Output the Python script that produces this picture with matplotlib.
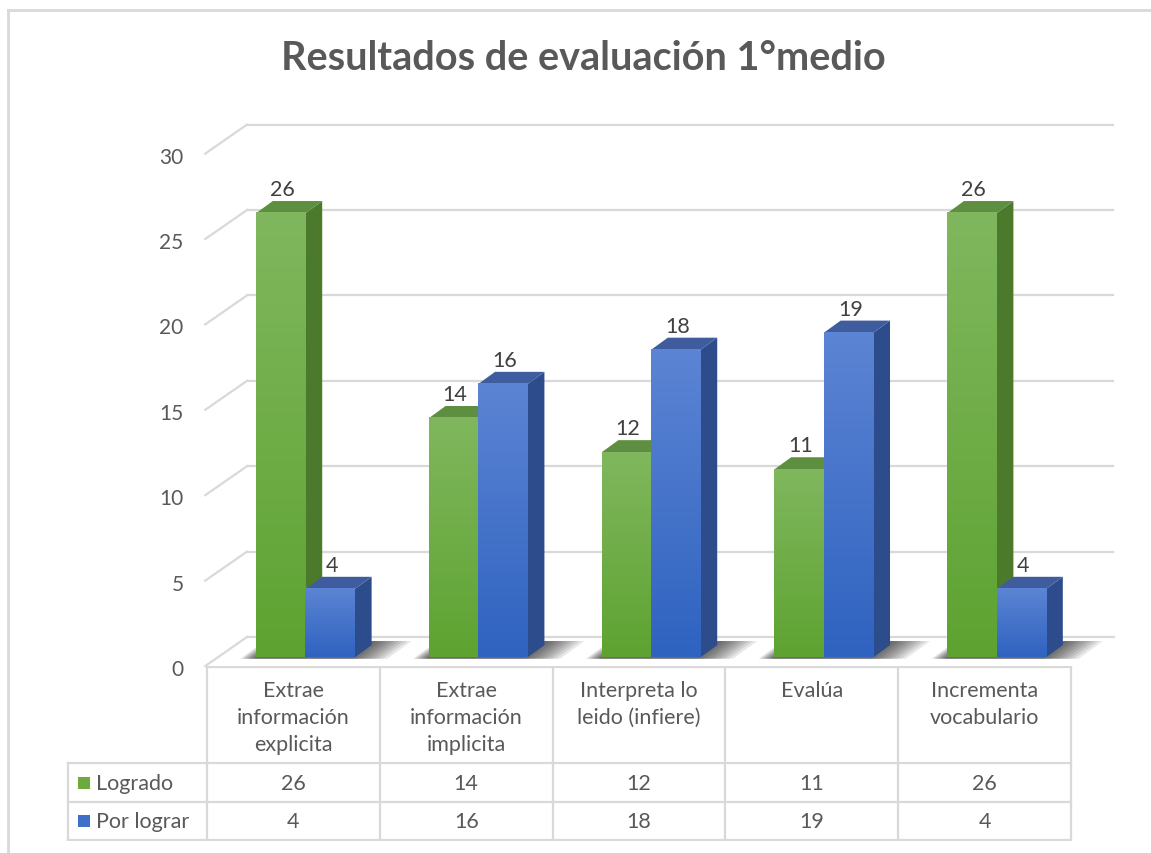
"""3D-style column chart with data table: Resultados de evaluación 1°medio."""
import numpy as np
import matplotlib
matplotlib.use("Agg")
import matplotlib.pyplot as plt
from matplotlib.patches import Polygon, Rectangle

CATEGORIES = [
    "Extrae\ninformación\nexplicita",
    "Extrae\ninformación\nimplicita",
    "Interpreta lo\nleido (infiere)",
    "Evalúa",
    "Incrementa\nvocabulario",
]
SERIES = ["Logrado", "Por lograr"]
LOGRADO = [26, 14, 12, 11, 26]
POR_LOGRAR = [4, 16, 18, 19, 4]
Y_TICKS = [0, 5, 10, 15, 20, 25, 30]
TITLE = "Resultados de evaluación 1°medio"

# colour sets per series: front top, front bottom, side, top face, legend
GREEN = ("#80b75e", "#5ea331", "#4b7a2d", "#5e8e3f", "#6aab3c")
BLUE = ("#5c84d4", "#2f63c0", "#2c4c8c", "#3f5d9e", "#3f6fc9")
TEXT = "#595959"
GRID = "#d9d9d9"

W, H = 1151, 854
X0, XU = 207.0, 172.8   # px of category 0 left edge, px per category
Y0, YU = 667.0, 17.08   # px (from top) of value 0 on front plane, px per unit
DX, DY = 40.0 / XU, 29.0 / YU   # depth offset of the back wall in data units
Z0, Z1 = 0.30, 0.72             # bar depth range
BW = 0.286                       # bar width

plt.rcParams["font.family"] = ["Lato", "DejaVu Sans"]

fig = plt.figure(figsize=(W / 100, H / 100), dpi=100)
ax = fig.add_axes([0, 0, 1, 1])
ax.axis("off")


def proj(x, v, z):
    return (x + z * DX, v + z * DY)


# outer chart frame (top and left edges visible)
fig.add_artist(plt.Line2D([8 / W, 1], [1 - 11 / H, 1 - 11 / H], color="#d9d9d9", lw=2))
fig.add_artist(plt.Line2D([8 / W, 8 / W], [0, 1 - 11 / H], color="#d9d9d9", lw=2))

n = len(CATEGORIES)

# walls: gridlines on back wall + left wall diagonals
for v in Y_TICKS:
    if v > 0:
        a, b = proj(0, v, 1), proj(n, v, 1)
        ax.plot([a[0], b[0] + 0.01], [a[1], b[1]], color=GRID, lw=1.6, zorder=1)
    a, b = proj(0, v, 0), proj(0, v, 1)
    ax.plot([a[0] - 0.01, b[0]], [a[1], b[1]], color=GRID, lw=1.6, zorder=1)
    ax.text(-0.135, v - 0.17, str(v), ha="right", va="center", fontsize=15, color=TEXT)

# floor back edge
a, b = proj(0, 0, 1), proj(n, 0, 1)
ax.plot([a[0], b[0] + 0.02], [a[1], b[1]], color=GRID, lw=1.6, zorder=1)


def shadow(xl, xr):
    # soft shadow on the floor, stacked translucent footprints
    for grow in np.linspace(0.2, 0.0, 9):
        pts = [proj(xl - grow * 0.4, 0, Z0 - 0.05), proj(xr + grow, 0, Z0 - 0.05),
               proj(xr + grow, 0, Z1 + 0.14), proj(xl - grow * 0.4, 0, Z1 + 0.14)]
        ax.add_patch(Polygon(pts, closed=True, facecolor="black", alpha=0.09,
                             edgecolor="none", zorder=2))


def bar3d(xl, v, colors):
    xr = xl + BW
    top_c, bot_c, side_c, roof_c = colors[:4]
    side = [proj(xr, 0, Z0), proj(xr, 0, Z1), proj(xr, v, Z1), proj(xr, v, Z0)]
    ax.add_patch(Polygon(side, closed=True, facecolor=side_c, edgecolor="none", zorder=3))
    roof = [proj(xl, v, Z0), proj(xr, v, Z0), proj(xr, v, Z1), proj(xl, v, Z1)]
    ax.add_patch(Polygon(roof, closed=True, facecolor=roof_c, edgecolor="none", zorder=3))
    fx0, fy0 = proj(xl, 0, Z0)
    fx1, fy1 = proj(xr, v, Z0)
    grad = np.linspace(0, 1, 64)[:, None, None]
    c_top = np.array(matplotlib.colors.to_rgb(top_c))
    c_bot = np.array(matplotlib.colors.to_rgb(bot_c))
    img = c_top * (1 - grad) + c_bot * grad
    ax.imshow(img, extent=(fx0, fx1, fy0, fy1), origin="upper", aspect="auto",
              interpolation="bilinear", zorder=4)
    lx = (fx0 + fx1) / 2 + 0.01
    ly = proj(xl, v, Z1)[1]
    ax.annotate(str(v), (lx, ly), xytext=(0, 1.5), textcoords="offset points",
                ha="center", va="bottom", fontsize=15.5, color="#404040", zorder=5)


for i in range(n):
    shadow(i + 0.5 - BW, i + 0.5 + BW)
for i in range(n):
    bar3d(i + 0.5 - BW, LOGRADO[i], GREEN)
    bar3d(i + 0.5, POR_LOGRAR[i], BLUE)

ax.set_xlim(-X0 / XU, (W - X0) / XU)
ax.set_ylim(-(H - Y0) / YU, Y0 / YU)

# title
fig.text(583 / W, 1 - 58 / H, TITLE, ha="center", va="center", fontsize=28.5,
         fontweight="bold", color=TEXT)

# data table
tb = fig.add_axes([0, (H - 842) / H, 1, (842 - 667) / H])
tb.set_xlim(-X0 / XU, (W - X0) / XU)
tb.set_ylim(175, 0)
tb.axis("off")
left = (68 - X0) / XU
tb.plot([0, n], [1, 1], color=GRID, lw=1.6)
for yy in (97, 136, 174):
    tb.plot([left, n], [yy, yy], color=GRID, lw=1.6)
for i in range(n + 1):
    tb.plot([i, i], [1, 174], color=GRID, lw=1.6)
tb.plot([left, left], [97, 174], color=GRID, lw=1.6)
for i, cat in enumerate(CATEGORIES):
    tb.text(i + 0.5, 14, cat, ha="center", va="top", fontsize=15.5, color=TEXT,
            linespacing=1.45)
    tb.text(i + 0.5, 117, str(LOGRADO[i]), ha="center", va="center", fontsize=15.5, color=TEXT)
    tb.text(i + 0.5, 155, str(POR_LOGRAR[i]), ha="center", va="center", fontsize=15.5, color=TEXT)
for yy, name, col in ((117, SERIES[0], GREEN[4]), (155, SERIES[1], BLUE[4])):
    tb.add_patch(Rectangle(((78 - X0) / XU, yy - 6), 12 / XU, 12, facecolor=col,
                           edgecolor="none"))
    tb.text((96 - X0) / XU, yy, name, ha="left", va="center", fontsize=15.5, color=TEXT)

fig.savefig("out.png", dpi=100, facecolor="white")
